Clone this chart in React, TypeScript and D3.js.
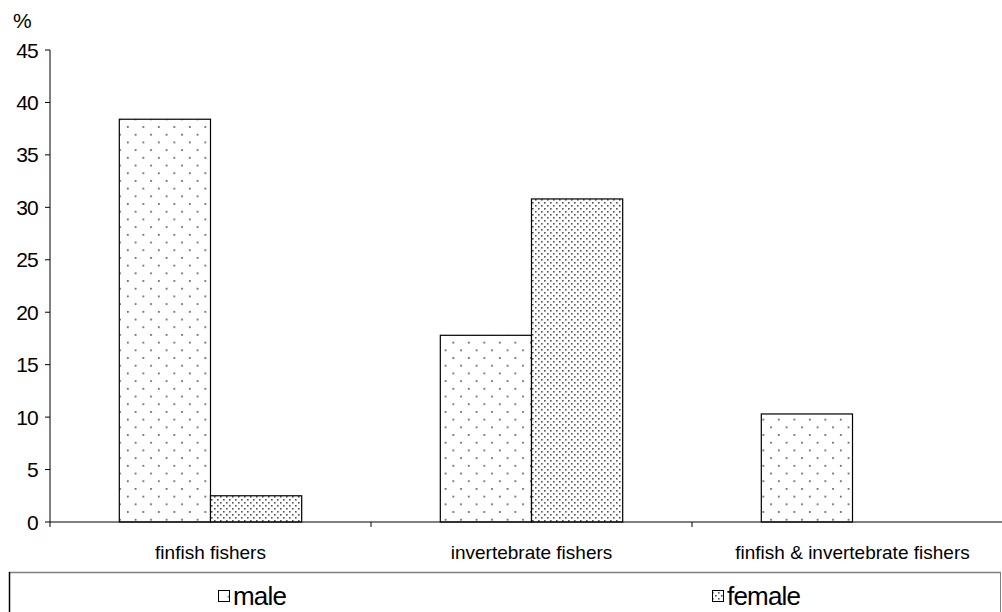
import React from "react";
import * as d3 from "d3";

const categories = ["finfish fishers", "invertebrate fishers", "finfish & invertebrate fishers"];
const series = ["male", "female"];
const maleValues = [38.4, 17.8, 10.3];
const femaleValues = [2.5, 30.8, 0];
const yTicks = [0, 5, 10, 15, 20, 25, 30, 35, 40, 45];

const W = 1002;
const H = 612;
const x0 = 50;
const bandW = 321;
const yTop = 50;
const yBottom = 522;

export default function App() {
  const x = d3.scaleBand<string>().domain(categories).range([x0, x0 + bandW * categories.length]).paddingInner(0).paddingOuter(0);
  const y = d3.scaleLinear().domain([0, 45]).range([yBottom, yTop]);
  const inner = d3.scaleBand<string>().domain(series).range([0, bandW]).paddingInner(0).paddingOuter(0.76);
  const values = [maleValues, femaleValues];
  const fills = ["url(#patMale)", "url(#patFemale)"];
  const font = "'Liberation Sans', Arial, sans-serif";
  const boundaries = d3.range(categories.length + 1).map((i) => x0 + i * bandW);

  return (
    <svg width={W} height={H} style={{ position: "absolute", left: 0, top: 0, background: "#fff" }} fontFamily={font}>
      <defs>
        <pattern id="patMale" patternUnits="userSpaceOnUse" width={15.5} height={15.4} x={0} y={0}>
          <rect width={15.5} height={15.4} fill="#fff" />
          <rect x={3} y={3} width={1.6} height={1.6} fill="#444" />
          <rect x={10.75} y={10.7} width={1.6} height={1.6} fill="#444" />
        </pattern>
        <pattern id="patFemale" patternUnits="userSpaceOnUse" width={6} height={6}>
          <rect width={6} height={6} fill="#fff" />
          <rect x={1} y={1} width={1.6} height={1.6} fill="#555" />
          <rect x={4} y={4} width={1.6} height={1.6} fill="#555" />
        </pattern>
      </defs>
      <rect x={0} y={0} width={W} height={H} fill="#fff" />

      {/* bars */}
      {categories.map((c, ci) =>
        series.map((s, si) => {
          const v = values[si][ci];
          if (!v) return null;
          const bx = (x(c) as number) + (inner(s) as number);
          return (
            <rect
              key={c + s}
              x={bx}
              y={y(v)}
              width={inner.bandwidth()}
              height={y(0) - y(v)}
              fill={fills[si]}
              stroke="#000"
              strokeWidth={1.2}
            />
          );
        })
      )}

      {/* y axis */}
      <line x1={x0} x2={x0} y1={y(45)} y2={y(0)} stroke="#000" strokeWidth={1} />
      {yTicks.map((t) => (
        <g key={t}>
          <line x1={x0 - 5} x2={x0} y1={y(t)} y2={y(t)} stroke="#000" strokeWidth={1} />
          <text x={38} y={y(t)} dy="0.36em" textAnchor="end" fontSize={21} letterSpacing={-0.8}>
            {t}
          </text>
        </g>
      ))}
      <text x={13} y={20} dy="0.36em" fontSize={21}>%</text>

      {/* x axis */}
      <line x1={x0} x2={x0 + bandW * categories.length} y1={yBottom} y2={yBottom} stroke="#000" strokeWidth={1} />
      {boundaries.map((b) => (
        <line key={b} x1={b} x2={b} y1={yBottom} y2={yBottom + 5} stroke="#000" strokeWidth={1} />
      ))}
      {categories.map((c) => (
        <text key={c} x={(x(c) as number) + bandW / 2} y={552} dy="0.36em" textAnchor="middle" fontSize={19}>
          {c}
        </text>
      ))}

      {/* legend */}
      <line x1={9} x2={1001} y1={572.5} y2={572.5} stroke="#808080" strokeWidth={1.5} />
      <line x1={9.5} x2={9.5} y1={572} y2={612} stroke="#000" strokeWidth={1.5} />
      <line x1={1000.5} x2={1000.5} y1={572} y2={612} stroke="#808080" strokeWidth={1} />
      {series.map((s, si) => {
        const lx = si === 0 ? 218 : 712;
        return (
          <g key={s}>
            <rect x={lx + 0.5} y={590.5} width={11} height={11} fill={fills[si]} stroke="#000" strokeWidth={1} />
            <text x={lx + 15} y={596} dy="0.36em" fontSize={26} letterSpacing={-0.8}>
              {s}
            </text>
          </g>
        );
      })}
    </svg>
  );
}
